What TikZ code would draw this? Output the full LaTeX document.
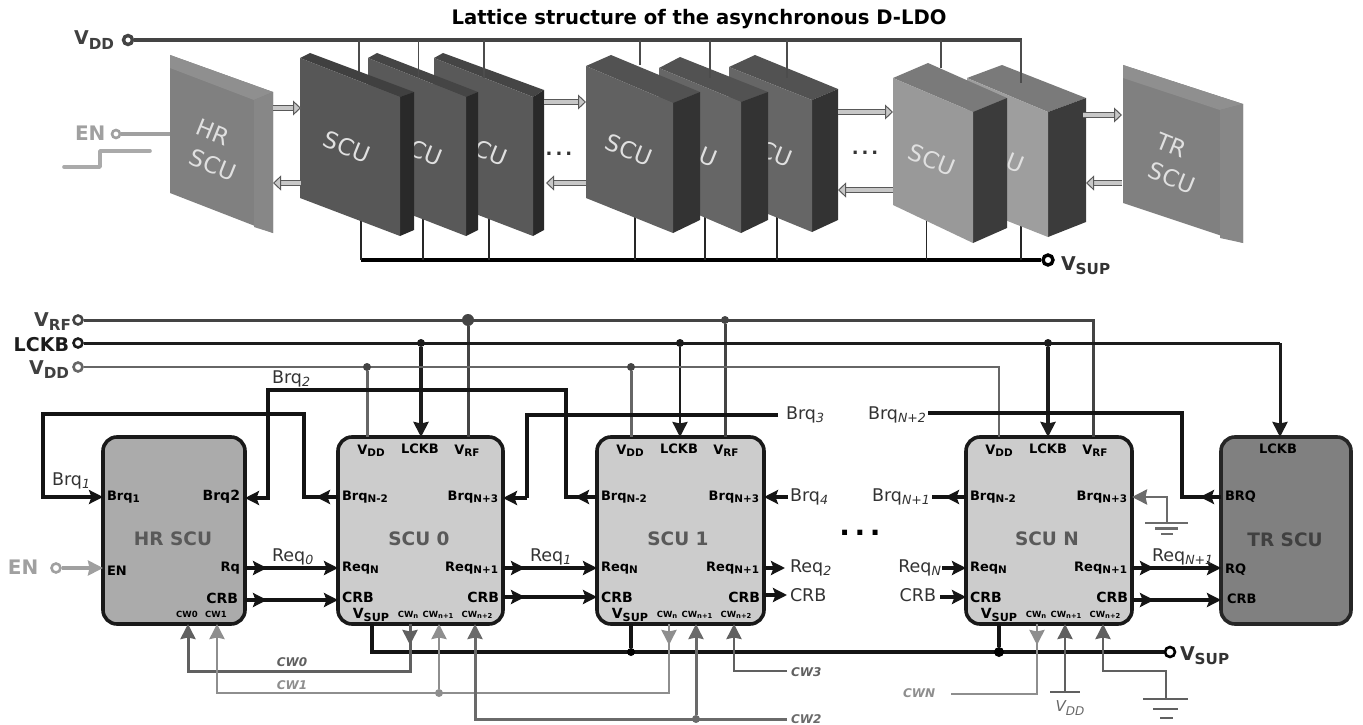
\documentclass[tikz,border=0pt]{standalone}
\usepackage{fontspec}
\usepackage{graphicx}
\setmainfont{DejaVu Sans}
\usetikzlibrary{arrows.meta,calc}
\definecolor{cRF}{HTML}{444444}
\definecolor{cLK}{HTML}{1C1C1C}
\definecolor{cDD}{HTML}{666666}
\definecolor{cEN}{HTML}{A0A0A0}
\definecolor{cCWa}{HTML}{606060}
\definecolor{cCWb}{HTML}{8E8E8E}
\definecolor{cCWc}{HTML}{6A6A6A}
\newcommand\lowr[1]{\raisebox{-.22em}{\scalebox{.8}{#1}}}
\newcommand\lowi[1]{\raisebox{-.22em}{\scalebox{.72}{\itshape #1}}}
\newcommand\fs[1]{\fontsize{#1}{#1}\selectfont}
\tikzset{
  x=1pt,y=-1pt,
  txt/.style={inner sep=0pt,outer sep=0pt},
  pinb/.style={txt,font=\fs{13}\bfseries,text=black,anchor=base west},
  pinr/.style={txt,font=\fs{13}\bfseries,text=black,anchor=base east},
  pinc/.style={txt,font=\fs{13}\bfseries,text=black,anchor=base},
  tiny/.style={txt,font=\fs{8.5}\bfseries,text=black,anchor=base},
  sig/.style={txt,font=\fs{17.5},text=black!80},
  bigl/.style={txt,font=\fs{19}\bfseries,text=black!75,anchor=base east},
  cwl/.style={txt,font=\fs{12}\bfseries\itshape},
  title/.style={txt,font=\fs{20}\bfseries,text=black},
  tip/.style={-{Stealth[length=14pt,width=14pt,inset=2.5pt]}},
  tipc/.style={-{Stealth[length=15pt,width=15pt,inset=1.5pt]}},
  wsig/.style={line width=3.3pt,black!92,tip},
  wline/.style={line width=3.3pt,black!92},
  unit/.style={draw=black!90,line width=3.6pt,rounded corners=14pt,minimum height=187pt,inner sep=0pt,outer sep=0pt},
  term/.style={circle,draw,fill=white,minimum size=9pt,inner sep=0pt,line width=2.6pt},
  junc/.style={circle,fill,minimum size=#1,inner sep=0pt},
  junc/.default=8pt,
  thinw/.style={line width=1.4pt,black!85},
  thinv/.style={line width=1.2pt,black!70},
  block/.style={double=black!22,double distance=4pt,line width=1pt,black!65,-{Triangle[open,fill=black!22,length=8pt,width=15pt,line width=1pt]}},
  slabtxt/.style={txt,font=\fs{23},text=white!88!black,rotate=-22},
  unitname/.style={txt,font=\fs{18.5}\bfseries,text=black!65},
}
\newcommand\pins[2]{%
  \node[pinc] (#1vdd) at ([shift={(33,17)}]#1.north west) {V\lowr{DD}};
  \node[pinc] (#1lck) at ([shift={(82,16)}]#1.north west) {LCKB};
  \node[pinc] (#1vrf) at ([shift={(129,17)}]#1.north west) {V\lowr{RF}};
  \node[pinb] (#1bn)  at ([shift={(4,63)}]#1.north west) {Brq\lowr{N-2}};
  \node[pinr] (#1bp)  at ([shift={(-5,63)}]#1.north east) {Brq\lowr{N+3}};
  \node[pinb] (#1rn)  at ([shift={(4,134)}]#1.north west) {Req\lowr{N}};
  \node[pinr] (#1rp)  at ([shift={(-5,134)}]#1.north east) {Req\lowr{N+1}};
  \node[pinb,font=\fs{14}\bfseries] (#1cl) at ([shift={(4,165)}]#1.north west) {CRB};
  \node[pinr,font=\fs{14}\bfseries] (#1cr) at ([shift={(-4,165)}]#1.north east) {CRB};
  \node[pinc,font=\fs{14}\bfseries] (#1vs) at ([shift={(33,181)}]#1.north west) {V\lowr{SUP}};
  \node[tiny] (#1cn) at ([shift={(70,180)}]#1.north west) {CW\lowr{n}};
  \node[tiny] (#1cp) at ([shift={(100,180)}]#1.north west) {CW\lowr{n+1}};
  \node[tiny] (#1cq) at ([shift={(139,180)}]#1.north west) {CW\lowr{n+2}};
  \node[unitname] (#1nm) at ([shift={(81,102)}]#1.north west) {#2};
}
\begin{document}
\begin{tikzpicture}
\useasboundingbox (0,0) rectangle (1363,725);
% ---------- title
\node[title] (ttl) at (699,19) {\scalebox{.98}[1]{Lattice structure of the asynchronous D-LDO}};
% ---------- top rails
\node[term,draw=cRF,line width=3.4pt,minimum size=9pt] (tvdd) at (128,40) {};
\coordinate (tvddr) at (1022,40);
\draw[line width=4.4pt,cRF] (tvdd) -- (tvddr);
\node[bigl] (tvddl) at (114,45) {V\lowr{DD}};
\foreach \xa/\ya in {359/72,418.5/78,484/78,640/65,710/78,787/78,941/68,1021/83}
  \draw[thinv] (\xa,40) -- (\xa,\ya);
\node[term,draw=black,line width=3.4pt,minimum size=10pt] (tsup) at (1048,260) {};
\draw[line width=4.4pt,black] (361,260) -- (tsup);
\node[txt,font=\fs{19}\bfseries,text=black!80,anchor=base west] (tsupl) at (1061,270) {V\lowr{SUP}};
\foreach \xa/\ya in {361/215,423/210,489/210,635/210,705/210,777/210,926.5/215,1021/210}
  \draw[thinw] (\xa,260) -- (\xa,\ya);
% ---------- EN (top)
\node[txt,font=\fs{20}\bfseries,text=cEN,anchor=base west] (ten) at (75,140) {EN};
\node[term,draw=cEN,minimum size=8pt] (tenc) at (116,134) {};
\coordinate (hrw) at (170,134);
\draw[line width=3.4pt,cEN] (tenc) -- (hrw);
\draw[line width=3.6pt,cEN!90,line cap=round,line join=round] (64,167) -- (100,167) -- (100,151) -- (150,151);
% ---------- HR slab
\fill[black!50] (170,55) -- (273,92) -- (273,233) -- (170,193) -- cycle;
\fill[black!44] (170,55) -- (273,92) -- (254,100) -- (170,68) -- cycle;
\fill[black!47] (273,92) -- (273,233) -- (254,227) -- (254,100) -- cycle;
\node[slabtxt] (hr1) at (213,132) {HR};
\node[slabtxt] (hr2) at (213,165) {SCU};
% ---------- group 1
\fill[black!73] (434,58) -- (443,53) -- (544,90) -- (533,97) -- cycle;
\fill[black!84] (533,97) -- (544,90) -- (544,230) -- (533,236) -- cycle;
\fill[black!65] (434,58) -- (533,97) -- (533,236) -- (434,198) -- cycle;
\node[slabtxt] (s3) at (491,153) {CU};
\fill[black!73] (368,58) -- (377,53) -- (478,92) -- (466,97) -- cycle;
\fill[black!84] (466,97) -- (478,92) -- (478,230) -- (466,236) -- cycle;
\fill[black!65] (368,58) -- (466,97) -- (466,236) -- (368,198) -- cycle;
\node[slabtxt] (s2) at (426,153) {CU};
\fill[black!75] (300,58) -- (310,53) -- (414,92) -- (400,97) -- cycle;
\fill[black!84] (400,97) -- (414,92) -- (414,230) -- (400,236) -- cycle;
\fill[black!66] (300,58) -- (400,97) -- (400,236) -- (300,198) -- cycle;
\node[slabtxt] (s1) at (347,147) {SCU};
% ---------- group 2
\fill[black!68] (729,67) -- (755,55) -- (838,89) -- (812,100) -- cycle;
\fill[black!80] (812,100) -- (838,89) -- (838,220) -- (812,232) -- cycle;
\fill[black!60] (729,67) -- (812,100) -- (812,232) -- (729,198) -- cycle;
\node[slabtxt] (s6) at (776,154) {CU};
\fill[black!68] (659,68) -- (680,57) -- (768,92) -- (741,102) -- cycle;
\fill[black!80] (741,102) -- (768,92) -- (768,220) -- (741,233) -- cycle;
\fill[black!60] (659,68) -- (741,102) -- (741,233) -- (659,198) -- cycle;
\node[slabtxt] (s5) at (708,157) {U};
\fill[black!68] (586,66) -- (611,55) -- (700,92) -- (673,103) -- cycle;
\fill[black!80] (673,103) -- (700,92) -- (700,220) -- (673,233) -- cycle;
\fill[black!62] (586,66) -- (673,103) -- (673,233) -- (586,198) -- cycle;
\node[slabtxt] (s4) at (629,150) {SCU};
% ---------- group 3
\fill[black!52] (967,78) -- (1002,65) -- (1086,98) -- (1048,112) -- cycle;
\fill[black!77] (1048,112) -- (1086,98) -- (1086,222) -- (1048,237) -- cycle;
\fill[black!38] (967,78) -- (1048,112) -- (1048,237) -- (967,205) -- cycle;
\node[slabtxt] (s8) at (1015,163) {U};
\fill[black!52] (893,78) -- (928,63) -- (1007,98) -- (973,112) -- cycle;
\fill[black!77] (973,112) -- (1007,98) -- (1007,228) -- (973,243) -- cycle;
\fill[black!40] (893,78) -- (973,112) -- (973,243) -- (893,205) -- cycle;
\node[slabtxt] (s7) at (932,160) {SCU};
% ---------- TR slab
\fill[black!50] (1123,65) -- (1243,104) -- (1243,243) -- (1123,203) -- cycle;
\fill[black!44] (1123,65) -- (1243,104) -- (1220,110) -- (1123,78) -- cycle;
\fill[black!47] (1243,104) -- (1243,243) -- (1220,238) -- (1220,110) -- cycle;
\node[slabtxt] (tr1) at (1172,145) {TR};
\node[slabtxt] (tr2) at (1172,178) {SCU};
% visible wire ends lying on the slabs
\foreach \xa/\ya in {418.5/78,484/78,710/78,787/78,1021/83}
  \draw[thinv] (\xa,66) -- (\xa,\ya);
% ---------- hollow arrows
\foreach \nm/\xa/\xb/\yy in {a/273/301/108,b/301/273/183,c/544/586/102,d/586/546/183,e/838/893/112,f/893/838/190,g/1083/1122/115,h/1122/1086/183}{
  \coordinate (ba\nm) at (\xa,\yy);
  \coordinate (bb\nm) at (\xb,\yy);
  \draw[block] (ba\nm) -- (bb\nm);
}
% ---------- dots
\node[txt,font=\fs{18}\bfseries,text=black!80] (dt1) at (559,154) {.\,.\,.};
\node[txt,font=\fs{18}\bfseries,text=black!80] (dt2) at (865,153) {.\,.\,.};
% =========================== lower diagram
\coordinate (Yb) at (0,497);
\coordinate (Yr) at (0,568);
\coordinate (Yc) at (0,600);
\coordinate (Yd) at (0,597);
% rails
\node[term,draw=cRF,minimum size=9pt] (vrf) at (78,320) {};
\node[term,draw=cLK,minimum size=9pt] (lck) at (78,343) {};
\node[term,draw=cDD,minimum size=9pt] (vdd) at (78,367) {};
\node[bigl] (vrfl) at (71,326) {V\lowr{RF}};
\node[bigl,text=cLK] (lckl) at (69,351) {LCKB};
\node[bigl] (vddl) at (69,374) {V\lowr{DD}};
% units
\node[unit,fill=black!33,minimum width=142pt,anchor=north west] (hr) at (103,437) {};
\node[unit,fill=black!20,minimum width=165pt,anchor=north west] (sa) at (338,437) {};
\node[unit,fill=black!20,minimum width=167pt,anchor=north west] (sb) at (597,437) {};
\node[unit,fill=black!20,minimum width=166pt,anchor=north west] (sn) at (966,437) {};
\node[unit,draw=black!85,fill=black!50,minimum width=130pt,anchor=north west] (tr) at (1221,437) {};
\pins{sa}{SCU 0}
\pins{sb}{SCU 1}
\pins{sn}{SCU N}
% HR and TR labels
\node[unitname] (hrnm) at (173,539) {HR SCU};
\node[pinb] (hrb1) at (107,500) {Brq\lowr{1}};
\node[pinr,font=\fs{14}\bfseries] (hrb2) at (240,500) {Brq2};
\node[pinb] (hren) at (107,575) {EN};
\node[pinr] (hrrq) at (240,571) {Rq};
\node[pinr,font=\fs{14}\bfseries] (hrcb) at (238,603) {CRB};
\node[tiny] (hrc0) at (187,617) {CW0};
\node[tiny] (hrc1) at (216,617) {CW1};
\node[unitname,text=black!75] (trnm) at (1285,540) {TR SCU};
\node[pinc] (trlk) at (1278,453) {LCKB};
\node[pinb] (trbq) at (1225,500) {BRQ};
\node[pinb] (trrq) at (1225,573) {RQ};
\node[pinb] (trcb) at (1227,603) {CRB};
% supply rails and drops
\draw[line width=3pt,cRF] (vrf) -- (1093,320) -- (1093,437);
\node[junc=12pt,cRF] (jrf1) at (468,320) {};
\node[junc,cRF] (jrf2) at (725,320) {};
\draw[line width=3pt,cRF] (jrf1) -- (jrf1 |- sa.north);
\draw[line width=3pt,cRF] (jrf2) -- (jrf2 |- sb.north);
\draw[line width=3pt,cLK] (lck) -- (1280,343);
\draw[line width=3pt,cLK,tipc] (1280,343) -- (1280,437);
\node[junc,cLK] (jl1) at (421,343) {};
\node[junc,cLK] (jl2) at (680,343) {};
\node[junc,cLK] (jl3) at (1048,343) {};
\draw[line width=3.6pt,cLK,tipc] (jl1) -- (jl1 |- sa.north);
\draw[line width=2.6pt,cLK,tipc] (jl2) -- (jl2 |- sb.north);
\draw[line width=3.6pt,cLK,tipc] (jl3) -- (jl3 |- sn.north);
\draw[line width=2.4pt,cDD] (vdd) -- (999,367) -- (999,437);
\node[junc,cRF] (jd1) at (367,367) {};
\node[junc,cRF] (jd2) at (631,367) {};
\draw[line width=3pt,cDD] (jd1) -- (jd1 |- sa.north);
\draw[line width=3pt,cDD] (jd2) -- (jd2 |- sb.north);
% Brq wiring
\draw[wline,line join=miter] (sa.west |- Yb) -- (304,497) -- (304,414) -- (43,414) -- (43,497) -- (80,497);
\draw[wsig] (80,497) -- (hr.west |- Yb);
\draw[wsig] (sa.west |- Yb) -- (316,497);
\draw[wline] (sb.west |- Yb) -- (566,497) -- (566,390) -- (268,390) -- (268,498) -- (255,498);
\draw[wsig] (268,498) -- (hr.east |- 0,498);
\draw[wsig] (sb.west |- Yb) -- (575,497);
\node[sig,anchor=base west] (lb1) at (52,485) {Brq\lowi{1}};
\node[sig,anchor=base west] (lb2) at (272,383) {Brq\lowi{2}};
\coordinate (b3s) at (778,415);
\node[sig,anchor=base west] (lb3) at (786,419) {Brq\lowi{3}};
\draw[wline] (b3s) -- (527,415) -- (527,498);
\draw[wsig] (527,498) -- (sa.east |- 0,498);
\node[sig,anchor=base west] (lb4) at (790,501) {Brq\lowi{4}};
\coordinate (b4s) at (788,497);
\draw[wsig] (b4s) -- (sb.east |- Yb);
\node[sig,anchor=base east] (lbn2) at (926,419) {Brq\lowi{N+2}};
\coordinate (bn2s) at (928,413);
\draw[wline] (bn2s) -- (1182,413) -- (1182,497) -- (tr.west |- Yb);
\draw[wsig] (tr.west |- Yb) -- (1200,497);
\node[sig,anchor=base east] (lbn1) at (930,501) {Brq\lowi{N+1}};
\coordinate (bn1e) at (932,497);
\draw[wline] (sn.west |- Yb) -- (bn1e);
\draw[wsig] (sn.west |- Yb) -- (945,497);
% ground at Brq N+3
\coordinate (g1) at (1167,523);
\draw[line width=2.8pt,black!58,tipc] (g1) -- (1167,497) -- (sn.east |- Yb);
\draw[line width=2.8pt,black!58] (1145,523) -- (1188,523);
\draw[line width=2.8pt,black!58] (1155,528.5) -- (1178,528.5);
\draw[line width=2.8pt,black!58] (1161,534) -- (1173,534);
% Req and CRB
\foreach \ua/\ub in {hr/sa,sa/sb}{
  \draw[wsig] (\ua.east |- Yr) -- (\ub.west |- Yr);
  \draw[wsig] (\ua.east |- Yr) ++(1,0) -- ++(21,0);
}
\draw[wsig] (hr.east |- Yc) -- (sa.west |- Yc);
\draw[wsig] (hr.east |- Yc) ++(1,0) -- ++(21,0);
\draw[wsig] (sa.east |- Yd) -- (sb.west |- Yd);
\draw[wsig] (sa.east |- Yd) ++(1,0) -- ++(21,0);
\node[sig,anchor=base west] (lr0) at (272,561) {Req\lowi{0}};
\node[sig,anchor=base west] (lr1) at (530,561) {Req\lowi{1}};
\coordinate (r2e) at (785,568);
\coordinate (c2e) at (787,595);
\draw[wsig] (sb.east |- Yr) -- (r2e);
\draw[wsig] (sb.east |- c2e) -- (c2e);
\node[sig,anchor=base west] (lr2) at (790,572) {Req\lowi{2}};
\node[sig,anchor=base west] (lcb2) at (790,601) {CRB};
\node[txt,font=\fs{28}\bfseries,text=black] (dots) at (860,533) {.\,.\,.};
\coordinate (rns) at (942,568);
\coordinate (cns) at (940,597);
\draw[wsig] (rns) -- (sn.west |- Yr);
\draw[wsig] (cns) -- (sn.west |- Yd);
\node[sig,anchor=base east] (lrn) at (941,572) {Req\lowi{N}};
\node[sig,anchor=base east] (lcbn) at (936,601) {CRB};
\draw[wsig] (sn.east |- Yr) -- (tr.west |- Yr);
\draw[wsig] (sn.east |- Yr) ++(1,0) -- ++(21,0);
\draw[wsig] (sn.east |- Yc) -- (tr.west |- Yc);
\draw[wsig] (sn.east |- Yc) ++(1,0) -- ++(21,0);
\node[sig,anchor=base west] (lrn1) at (1152,561) {Req\lowi{N+1}};
% EN lower
\node[txt,font=\fs{20}\bfseries,text=cEN,anchor=base west] (enl) at (8,574) {EN};
\node[term,draw=cEN,minimum size=9pt] (enc) at (56,568) {};
\draw[line width=3.2pt,cEN,tipc] (enc) -- (hr.west |- Yr);
% VSUP rail
\node[term,draw=black,minimum size=10pt] (vsup) at (1170,652) {};
\node[txt,font=\fs{19}\bfseries,text=black!80,anchor=base west] (vsupl) at (1180,660) {V\lowr{SUP}};
\draw[line width=3.3pt,black!92] (372,624) -- (372,652) -- (vsup);
\node[junc,black] (js1) at (631,652) {};
\node[junc=10pt,black] (js2) at (999,652) {};
\draw[line width=3.3pt,black!92] (js1) -- (js1 |- sb.south);
\draw[line width=3.3pt,black!92] (js2) -- (js2 |- sn.south);
% CW wiring
\coordinate (hc0) at (188,624);
\coordinate (hc1) at (217,624);
\coordinate (ac0) at (410,624);
\coordinate (ac1) at (439,624);
\coordinate (ac2) at (475,624);
\coordinate (bc0) at (669,624);
\coordinate (bc1) at (696,624);
\coordinate (bc2) at (734,624);
\coordinate (nc0) at (1037,624);
\coordinate (nc1) at (1065,624);
\coordinate (nc2) at (1103,624);
\draw[line width=3pt,cCWa,tipc] (ac0) -- (410,671) -- (188,671) -- (hc0);
\draw[line width=3pt,cCWa,tipc] (ac0) -- (410,645);
\draw[line width=2.8pt,cCWb,tipc] (bc0) -- (669,693) -- (217,693) -- (hc1);
\draw[line width=2.8pt,cCWb,tipc] (bc0) -- (669,645);
\node[junc,cCWb] (jc1) at (439,693) {};
\draw[line width=2.8pt,cCWb,tipc] (jc1) -- (ac1);
\coordinate (cw2s) at (787,719);
\draw[line width=3pt,cCWc,tipc] (cw2s) -- (475,719) -- (ac2);
\node[junc,cCWc] (jc2) at (696,719) {};
\draw[line width=3pt,cCWc,tipc] (jc2) -- (bc1);
\coordinate (cw3s) at (787,671);
\draw[line width=2.8pt,cCWa,tipc] (cw3s) -- (734,671) -- (bc2);
\coordinate (cwns) at (951,694);
\draw[line width=2.8pt,cCWb] (cwns) -- (1037,694) -- (nc0);
\draw[line width=2.8pt,cCWb,tipc] (nc0) -- (1037,645);
\coordinate (vt) at (1065,692);
\draw[line width=2.8pt,cCWa,tipc] (vt) -- (nc1);
\draw[line width=2.8pt,cCWa] (1050,692) -- (1080,692);
\coordinate (gg) at (1166,699);
\draw[line width=2.8pt,cCWa,tipc] (gg) -- (1166,671) -- (1103,671) -- (nc2);
\draw[line width=2.8pt,cCWa] (1143,699) -- (1188,699);
\draw[line width=2.8pt,cCWa] (1153,709) -- (1178,709);
\draw[line width=2.8pt,cCWa] (1160,718) -- (1173,718);
\node[cwl,text=cCWa] (lc0) at (292,662) {CW0};
\node[cwl,text=cCWb] (lc1) at (292,685) {CW1};
\node[cwl,text=cCWa,anchor=west] (lc3) at (791,672) {CW3};
\node[cwl,text=cCWc,anchor=west] (lc2) at (791,719) {CW2};
\node[cwl,text=cCWb,anchor=west] (lcn) at (903,693) {CWN};
\node[txt,font=\fs{15}\itshape,text=cDD] (lvd) at (1070,708) {V\lowr{DD}};
\end{tikzpicture}
\end{document}
